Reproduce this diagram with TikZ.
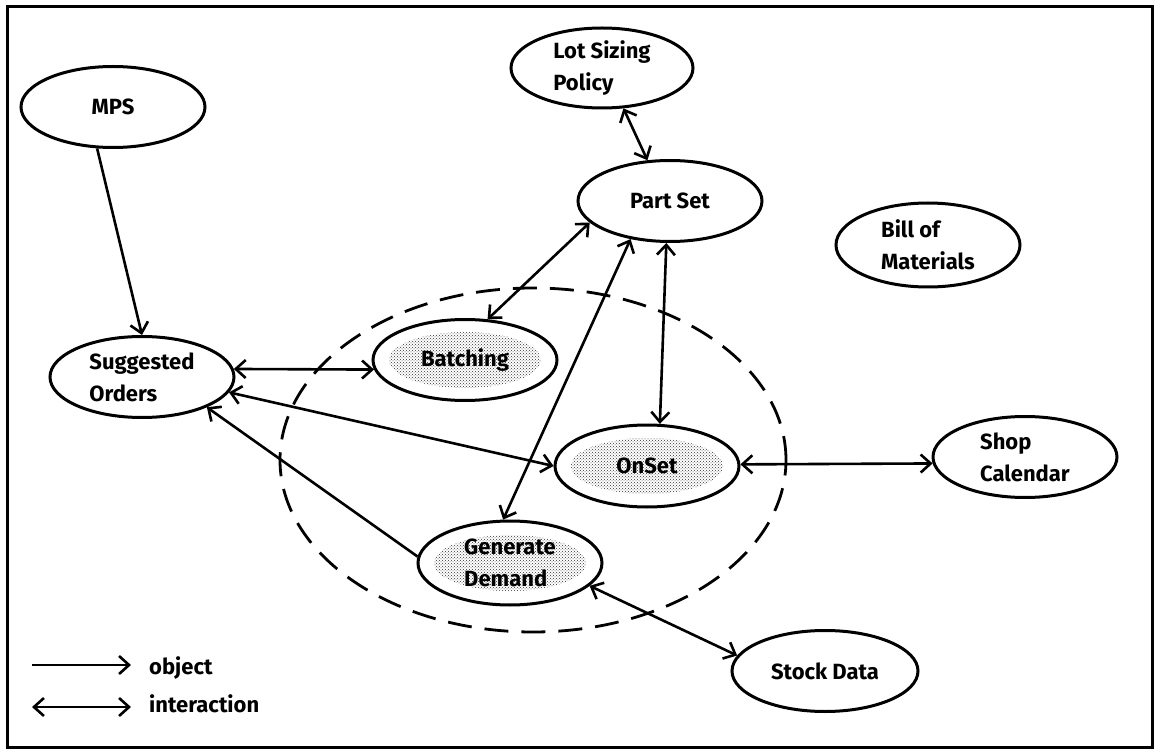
\documentclass[tikz,border=0pt]{standalone}
\usepackage{fontspec}
\setmainfont{Fira Sans}
\usetikzlibrary{shapes.geometric,arrows.meta,patterns}

\tikzset{
  obj/.style={draw, ellipse, line width=3pt, inner sep=0pt,
    minimum width=184pt, minimum height=81pt, fill=white,
    align=left, font=\fontsize{22}{32}\selectfont\bfseries},
  active/.style={obj, path picture={
    \fill[pattern=crosshatch dots, pattern color=black!80]
      (path picture bounding box.center) ellipse (76pt and 28pt);}},
  link/.style={line width=2.6pt, -{Straight Barb[length=10pt,width=18pt,line width=2.6pt]}},
  both/.style={line width=2.6pt, {Straight Barb[length=10pt,width=18pt,line width=2.6pt]}-{Straight Barb[length=10pt,width=18pt,line width=2.6pt]}},
  legendtext/.style={anchor=west, inner sep=0pt, font=\fontsize{22}{26}\selectfont\bfseries}
}

\begin{document}
\begin{tikzpicture}[x=1pt,y=-1pt]
  \useasboundingbox (0,0) rectangle (1157,751);
  \fill[white] (0,0) rectangle (1157,751);
  \draw[line width=3pt] (7,7) rectangle (1152,747);

  % grouping boundary round the active objects
  \draw[line width=2.8pt, dash pattern=on 24pt off 13pt] (533,460) ellipse (253pt and 172pt);

  % objects
  \node[obj] (mps) at (113,107) {MPS};
  \node[obj, minimum width=182pt, minimum height=80pt] (lot) at (602,68) {Lot Sizing\\Policy};
  \node[obj] (part) at (670,201) {Part Set};
  \node[obj, minimum height=84pt] (bom) at (928,245) {Bill of\\Materials};
  \node[obj] (sugg) at (142,377) {Suggested\\Orders};
  \node[active] (batch) at (465,360) {Batching};
  \node[active, minimum height=82pt] (onset) at (647,466) {OnSet};
  \node[active, minimum height=84pt] (gen) at (510,563) {Generate\\Demand};
  \node[obj] (shop) at (1025,457) {Shop\\Calendar};
  \node[obj, minimum width=186pt] (stock) at (825,671) {Stock Data};

  % connectors
  \draw[link] (mps.249) -- (sugg.north);
  \draw[both] (lot.298) -- (part.119);
  \draw[both] (part.195) -- (batch.61);
  \draw[both] (part.224) -- (gen.99);
  \draw[both] (part.265) -- (onset.73);
  \draw[both] (sugg.5) -- (batch.186);
  \draw[both] (sugg.350) -- (onset.180);
  \draw[link] (gen.176) -- (sugg.335);
  \draw[both] (onset.1) -- (shop.184);
  \draw[both] (gen.344) -- (stock.170);

  % legend
  \coordinate (la) at (32,665);
  \coordinate (lb) at (131,665);
  \coordinate (lc) at (32,707);
  \coordinate (ld) at (131,707);
  \draw[link] (la) -- (lb);
  \draw[both] (lc) -- (ld);
  \node[legendtext] (lobj) at (149,668) {object};
  \node[legendtext] (lint) at (149,704) {interaction};
\end{tikzpicture}
\end{document}
